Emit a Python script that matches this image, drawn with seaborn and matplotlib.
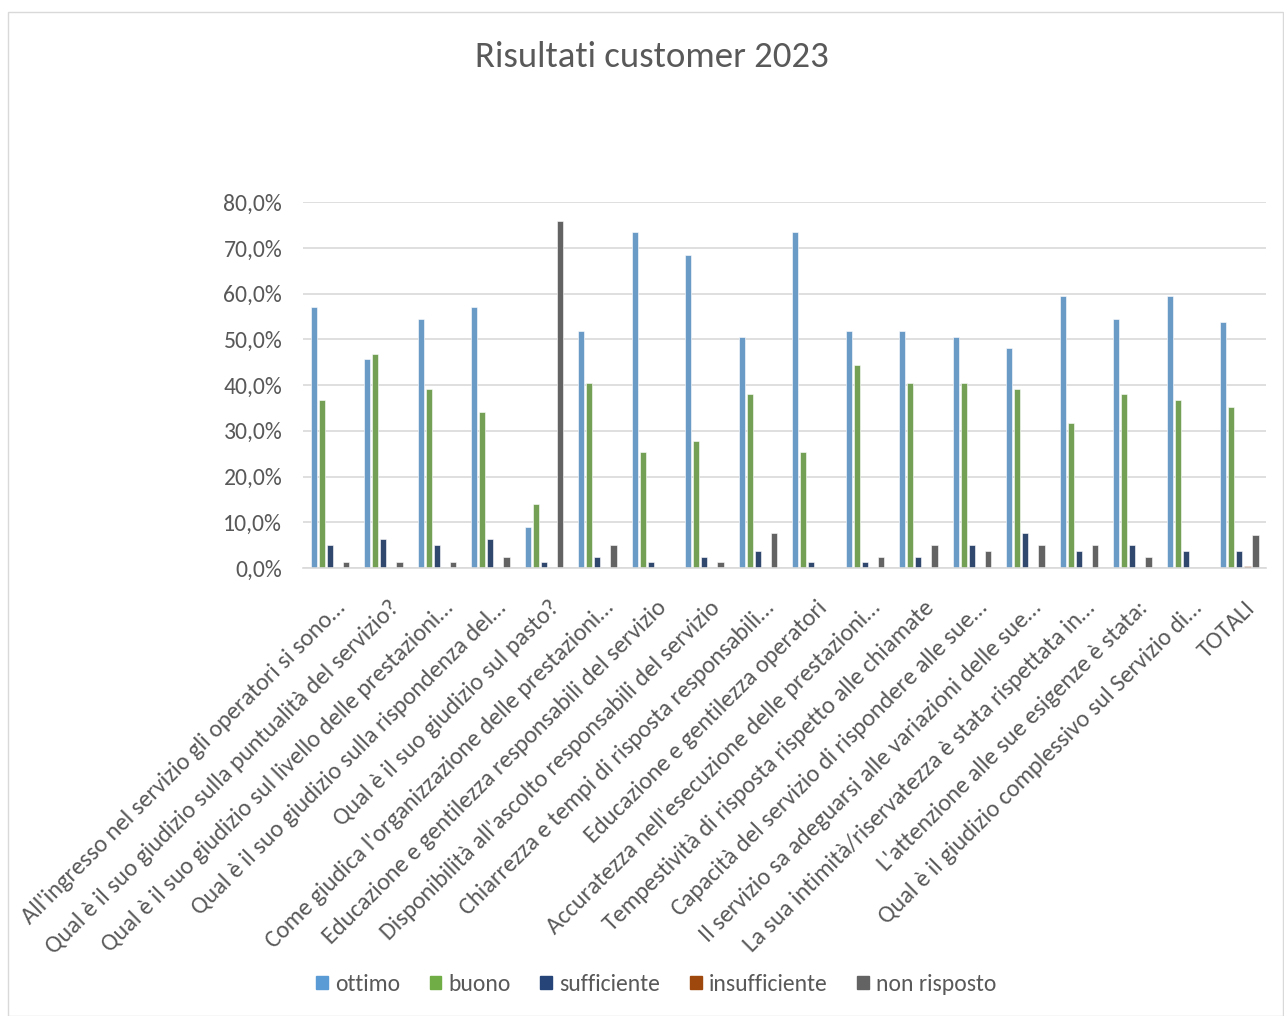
import pandas as pd
import matplotlib
matplotlib.use("Agg")
import matplotlib.pyplot as plt
import matplotlib.transforms as mtransforms
import seaborn as sns
from matplotlib.patches import Rectangle
from matplotlib.ticker import FuncFormatter

# domande del questionario (etichette asse x)
domande = [
    "All'ingresso nel servizio gli operatori si sono…",
    "Qual è il suo giudizio sulla puntualità del servizio?",
    "Qual è il suo giudizio sul livello delle prestazioni…",
    "Qual è il suo giudizio sulla rispondenza del…",
    "Qual è il suo giudizio sul pasto?",
    "Come giudica l'organizzazione delle prestazioni…",
    "Educazione e gentilezza responsabili del servizio",
    "Disponibilità all'ascolto responsabili del servizio",
    "Chiarrezza e tempi di risposta responsabili…",
    "Educazione e gentilezza operatori",
    "Accuratezza nell'esecuzione delle prestazioni…",
    "Tempestività di risposta rispetto alle chiamate",
    "Capacità del servizio di rispondere alle sue…",
    "Il servizio sa adeguarsi alle variazioni delle sue…",
    "La sua intimità/riservatezza è stata rispettata in…",
    "L'attenzione alle sue esigenze è stata:",
    "Qual è il giudizio complessivo sul Servizio di…",
    "TOTALI",
]

giudizi = ["ottimo", "buono", "sufficiente", "insufficiente", "non risposto"]

# percentuali
ottimo = [57.0, 45.6, 54.4, 57.0, 8.9, 51.9, 73.4, 68.4, 50.6, 73.4,
          51.9, 51.9, 50.6, 48.1, 59.5, 54.4, 59.5, 53.8]
buono = [36.7, 46.8, 39.2, 34.2, 13.9, 40.5, 25.3, 27.8, 38.0, 25.3,
         44.3, 40.5, 40.5, 39.2, 31.6, 38.0, 36.7, 35.2]
sufficiente = [5.1, 6.3, 5.1, 6.3, 1.3, 2.5, 1.3, 2.5, 3.8, 1.3,
               1.3, 2.5, 5.1, 7.6, 3.8, 5.1, 3.8, 3.7]
insufficiente = [0, 0, 0, 0, 0, 0, 0, 0, 0, 0,
                 0, 0, 0, 0, 0, 0, 0, 0.4]
non_risposto = [1.3, 1.3, 1.3, 2.5, 75.9, 5.1, 0, 1.3, 7.6, 0,
                2.5, 5.1, 3.8, 5.1, 5.1, 2.5, 0, 7.1]

colori = ["#5B9BD5", "#70AD47", "#264478", "#9E480E", "#636363"]

serie = [ottimo, buono, sufficiente, insufficiente, non_risposto]
righe = []
for g, valori in zip(giudizi, serie):
    for d, v in zip(domande, valori):
        righe.append({"domanda": d, "giudizio": g, "valore": v})
df = pd.DataFrame(righe)

sns.set_theme(style="white")
plt.rcParams["font.family"] = ["Carlito", "Open Sans", "DejaVu Sans"]
testo = "#595959"

fig = plt.figure(figsize=(12.84, 10.16), dpi=100)
ax = fig.add_axes([0.236, 0.441, 0.75, 0.36])

sns.barplot(data=df, x="domanda", y="valore", hue="giudizio",
            hue_order=giudizi, palette=colori, order=domande,
            width=0.75, gap=0.2, ax=ax, edgecolor="white", linewidth=0.4)

ax.set_ylim(0, 80)
ax.set_xlim(-0.5, len(domande) - 0.5)
ax.set_yticks(range(0, 81, 10))
ax.yaxis.set_major_formatter(FuncFormatter(lambda v, p: f"{v:.1f}%".replace(".", ",")))
ax.grid(axis="y", color="#D9D9D9", linewidth=1.2)
ax.set_axisbelow(True)
for s in ["top", "right", "left"]:
    ax.spines[s].set_visible(False)
ax.spines["bottom"].set_color("#D9D9D9")
ax.spines["bottom"].set_linewidth(1.2)
ax.tick_params(axis="both", length=0, labelsize=17, colors=testo)
ax.tick_params(axis="y", pad=15)
ax.tick_params(axis="x", pad=21, labelsize=17.6)
ax.set_xlabel("")
ax.set_ylabel("")
ax.set_xticks(range(len(domande)))
ax.set_xticklabels(domande, rotation=45, ha="right", va="top", rotation_mode="anchor")
sposta = mtransforms.ScaledTranslation(0.05, 0, fig.dpi_scale_trans)
for lab in ax.get_xticklabels():
    lab.set_transform(lab.get_transform() + sposta)

ax.get_legend().remove()
handles = [Rectangle((0, 0), 1, 1, color=c) for c in colori]
fig.legend(handles, giudizi, loc="center", bbox_to_anchor=(0.511, 0.031),
           ncol=5, frameon=False, fontsize=17, labelcolor=testo,
           handlelength=0.5, handleheight=0.5, handletextpad=0.3, columnspacing=1.25)

fig.text(0.508, 0.944, "Risultati customer 2023", ha="center", va="center",
         fontsize=26.5, color=testo)

fig.patches.append(Rectangle((0.006, 0.0), 0.993, 0.988, transform=fig.transFigure,
                             fill=False, edgecolor="#D9D9D9", linewidth=1))

fig.savefig("out.png", dpi=100)
